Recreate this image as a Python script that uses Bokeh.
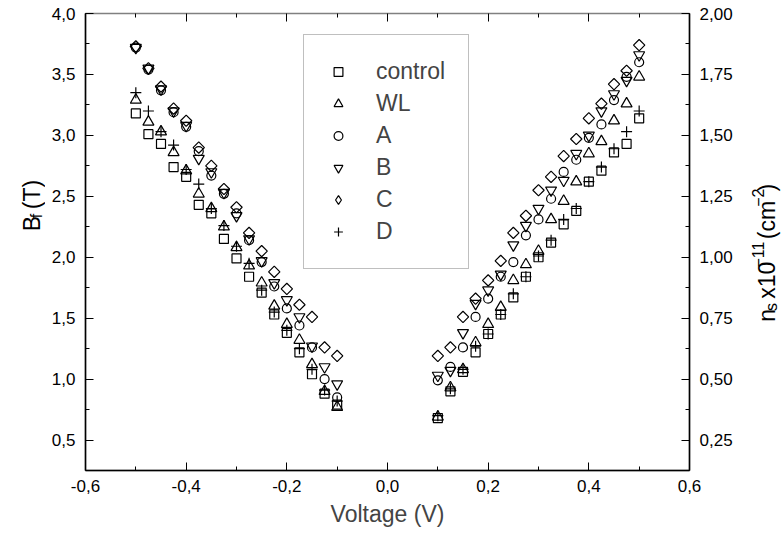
import math
from bokeh.plotting import figure
from bokeh.layouts import row
from bokeh.models import (Range1d, LinearAxis, FixedTicker, Legend, LegendItem,
                          ColumnDataSource)
from bokeh.core.properties import value
from bokeh.embed import file_html
from bokeh.resources import INLINE

# ---------------- data ----------------
voltage_neg = [-0.5, -0.475, -0.45, -0.425, -0.4, -0.375, -0.35, -0.325, -0.3,
               -0.275, -0.25, -0.225, -0.2, -0.175, -0.15, -0.125, -0.1]
voltage_pos = [0.1, 0.125, 0.15, 0.175, 0.2, 0.225, 0.25, 0.275, 0.3,
               0.325, 0.35, 0.375, 0.4, 0.425, 0.45, 0.475, 0.5]

control_neg = [3.18, 3.01, 2.93, 2.74, 2.66, 2.43, 2.36, 2.15, 1.99, 1.84, 1.71, 1.53, 1.38, 1.22, 1.04, 0.88, 0.79]
control_pos = [0.68, 0.90, 1.06, 1.22, 1.37, 1.53, 1.67, 1.84, 2.00, 2.12, 2.27, 2.38, 2.62, 2.71, 2.86, 2.93, 3.14]
wl_neg = [3.29, 3.11, 3.03, 2.86, 2.71, 2.52, 2.40, 2.25, 2.08, 1.93, 1.79, 1.60, 1.45, 1.32, 1.12, 0.90, 0.77]
wl_pos = [0.69, 0.93, 1.08, 1.30, 1.45, 1.59, 1.81, 1.94, 2.05, 2.31, 2.46, 2.62, 2.85, 2.95, 3.12, 3.26, 3.48]
a_neg = [3.72, 3.54, 3.37, 3.19, 3.07, 2.87, 2.67, 2.52, 2.36, 2.14, 1.96, 1.76, 1.58, 1.44, 1.26, 1.00, 0.85]
a_pos = [0.99, 1.10, 1.26, 1.51, 1.66, 1.84, 1.96, 2.18, 2.31, 2.48, 2.70, 2.80, 2.98, 3.09, 3.29, 3.48, 3.60]
b_neg = [3.72, 3.55, 3.38, 3.20, 3.08, 2.81, 2.70, 2.53, 2.34, 2.15, 1.97, 1.79, 1.65, 1.51, 1.27, 1.10, 0.96]
b_pos = [1.03, 1.07, 1.38, 1.62, 1.73, 1.86, 2.10, 2.26, 2.40, 2.55, 2.63, 2.85, 3.00, 3.20, 3.34, 3.45, 3.66]
c_neg = [3.73, 3.55, 3.40, 3.22, 3.12, 2.90, 2.75, 2.56, 2.41, 2.20, 2.05, 1.88, 1.74, 1.61, 1.51, 1.26, 1.19]
c_pos = [1.19, 1.26, 1.51, 1.66, 1.81, 1.97, 2.20, 2.34, 2.55, 2.66, 2.83, 2.97, 3.14, 3.26, 3.42, 3.53, 3.74]
d_neg = [3.35, 3.20, 3.03, 2.92, 2.72, 2.60, 2.40, 2.26, 2.09, 1.95, 1.73, 1.55, 1.40, 1.25, 1.08, 0.91, 0.82]
d_pos = [0.70, 0.92, 1.08, 1.27, 1.37, 1.53, 1.70, 1.84, 2.01, 2.14, 2.31, 2.40, 2.62, 2.74, 2.89, 3.03, 3.20]

series_names = ["control", "WL", "A", "B", "C", "D"]

x_ticks = [-0.6, -0.4, -0.2, 0.0, 0.2, 0.4, 0.6]
x_tick_labels = ["-0,6", "-0,4", "-0,2", "0,0", "0,2", "0,4", "0,6"]
x_minor = [-0.5, -0.3, -0.1, 0.1, 0.3, 0.5]
y_ticks = [0.5, 1.0, 1.5, 2.0, 2.5, 3.0, 3.5, 4.0]
y_tick_labels = ["0,5", "1,0", "1,5", "2,0", "2,5", "3,0", "3,5", "4,0"]
y_minor = [0.75, 1.25, 1.75, 2.25, 2.75, 3.25, 3.75]
ns_ticks = [0.25, 0.5, 0.75, 1.0, 1.25, 1.5, 1.75, 2.0]
ns_tick_labels = ["0,25", "0,50", "0,75", "1,00", "1,25", "1,50", "1,75", "2,00"]
ns_minor = [0.375, 0.625, 0.875, 1.125, 1.375, 1.625, 1.875]

FONT = "Liberation Sans"
TICK_FS = "17px"
TITLE_FS = 23
SCRIPT_FS = 16
H = 541
LEFT_W = 45
RIGHT_W = 44
MAIN_W = 781 - LEFT_W - RIGHT_W

# ---------------- main figure ----------------
p = figure(width=MAIN_W, height=H, x_range=Range1d(-0.6, 0.6), y_range=Range1d(0.25, 4.0),
           output_backend="svg", toolbar_location=None,
           min_border_left=85 - LEFT_W, min_border_right=(781 - RIGHT_W) - 689,
           min_border_top=13, min_border_bottom=71)
p.xgrid.visible = False
p.ygrid.visible = False
p.outline_line_color = "#808080"
p.outline_line_width = 1.5
p.extra_y_ranges = {"ns": Range1d(0.125, 2.0), "hidden": Range1d(100, 101)}


def style_axis(ax, ticks, minor, labels):
    ax.ticker = FixedTicker(ticks=ticks, minor_ticks=minor)
    ax.major_label_overrides = {t: l for t, l in zip(ticks, labels)}
    ax.major_tick_in = 8
    ax.major_tick_out = 0
    ax.minor_tick_in = 4
    ax.minor_tick_out = 0
    ax.axis_line_width = 1.5
    ax.axis_line_color = "black"
    ax.major_tick_line_color = "black"
    ax.minor_tick_line_color = "black"
    ax.major_label_text_font = FONT
    ax.major_label_text_font_size = TICK_FS
    ax.major_label_text_color = "black"


xa = p.xaxis[0]
style_axis(xa, x_ticks, x_minor, x_tick_labels)
xa.major_label_standoff = 9
xa.axis_label = "Voltage (V)"
xa.axis_label_text_font = FONT
xa.axis_label_text_font_size = f"{TITLE_FS}px"
xa.axis_label_text_font_style = "normal"
xa.axis_label_standoff = 6

ya = p.yaxis[0]
style_axis(ya, y_ticks, y_minor, y_tick_labels)
ya.major_label_standoff = 10

ra = LinearAxis(y_range_name="ns")
style_axis(ra, ns_ticks, ns_minor, ns_tick_labels)
ra.major_label_standoff = 10
p.add_layout(ra, "right")

ta = LinearAxis()
style_axis(ta, x_ticks, x_minor, [""] * len(x_ticks))
ta.axis_line_color = None
ta.major_label_text_font_size = "0px"
ta.major_label_standoff = 0
p.add_layout(ta, "above")

# ---------------- series ----------------
neg = [control_neg, wl_neg, a_neg, b_neg, c_neg, d_neg]
pos = [control_pos, wl_pos, a_pos, b_pos, c_pos, d_pos]
markers = ["square", "triangle", "circle", "inverted_triangle", "square", "cross"]
sizes = [9, 11, 9, 11, 8, 11]
angles = [0, 0, 0, 0, math.pi / 4, 0]

items = []
for name, yn, yp, mk, sz, ang in zip(series_names, neg, pos, markers, sizes, angles):
    src = ColumnDataSource(dict(v=voltage_neg + voltage_pos, b=yn + yp))
    r = p.scatter("v", "b", source=src, marker=mk, size=sz, angle=ang,
                  line_color="black", line_width=1.2, fill_color=None)
    if name == "C":
        # legend proxy drawn as a diamond; its points fall outside the hidden range
        lr = p.scatter("v", "b", source=src, marker="diamond", size=sz,
                       line_color="black", line_width=1.2, fill_color=None,
                       y_range_name="hidden")
        items.append(LegendItem(label=name, renderers=[lr]))
    else:
        items.append(LegendItem(label=name, renderers=[r]))

legend = Legend(items=items, location=(218, 201), orientation="vertical",
                glyph_width=22, glyph_height=27, spacing=5, padding=23,
                label_standoff=27, label_width=60, label_height=27,
                label_text_font=FONT, label_text_font_size="23px",
                border_line_color="#808080", border_line_width=1.5,
                background_fill_color="white", background_fill_alpha=1.0, margin=0)
p.add_layout(legend)

# ---------------- side figures for rotated axis titles ----------------
WID = {' ': 278, '(': 333, ')': 333, 'B': 667, 'T': 611, 'f': 278, 'n': 556, 's': 500,
       'x': 500, '1': 556, '0': 556, '-': 333, '\u2212': 584, 'c': 500, 'm': 833, '2': 556}


def tw(s, size):
    return sum(WID[c] for c in s) / 1000.0 * size


def side_fig(w):
    f = figure(width=w, height=H, x_range=Range1d(0, w), y_range=Range1d(0, H),
               output_backend="svg", toolbar_location=None,
               x_axis_type=None, y_axis_type=None,
               min_border_left=0, min_border_right=0, min_border_top=0, min_border_bottom=0)
    f.xgrid.visible = False
    f.ygrid.visible = False
    f.outline_line_color = None
    return f


def rotated_text(f, pieces, x_base, y_start):
    y = y_start
    for txt, size, shift in pieces:
        stripped = txt.lstrip(" ")
        y += tw(txt[:len(txt) - len(stripped)], size)
        f.text(x=[x_base + shift], y=[y], text=[stripped], angle=math.pi / 2,
               text_align="left", text_baseline="alphabetic",
               text_font=value(FONT), text_font_size=value(f"{size}px"),
               text_color="black")
        y += tw(stripped, size)


def total(pieces):
    return sum(tw(t, s) for t, s, _ in pieces)


pl = side_fig(LEFT_W)
left_pieces = [("B", TITLE_FS, 0), ("f", SCRIPT_FS, 5), (" (T)", TITLE_FS, 0)]
rotated_text(pl, left_pieces, 31, H - 230 - total(left_pieces) / 2)

pr = side_fig(RIGHT_W)
right_pieces = [("n", TITLE_FS, 0), ("s", SCRIPT_FS, 5), (" x10", TITLE_FS, 0),
                ("\u221211", SCRIPT_FS, -9), (" (cm", TITLE_FS, 0), ("\u22122", SCRIPT_FS, -9),
                (")", TITLE_FS, 0)]
rotated_text(pr, right_pieces, 766 - (781 - RIGHT_W), H - 284 - total(right_pieces) / 2)

layout = row(pl, p, pr, spacing=0)
open("out.html", "w").write(file_html(layout, INLINE))
